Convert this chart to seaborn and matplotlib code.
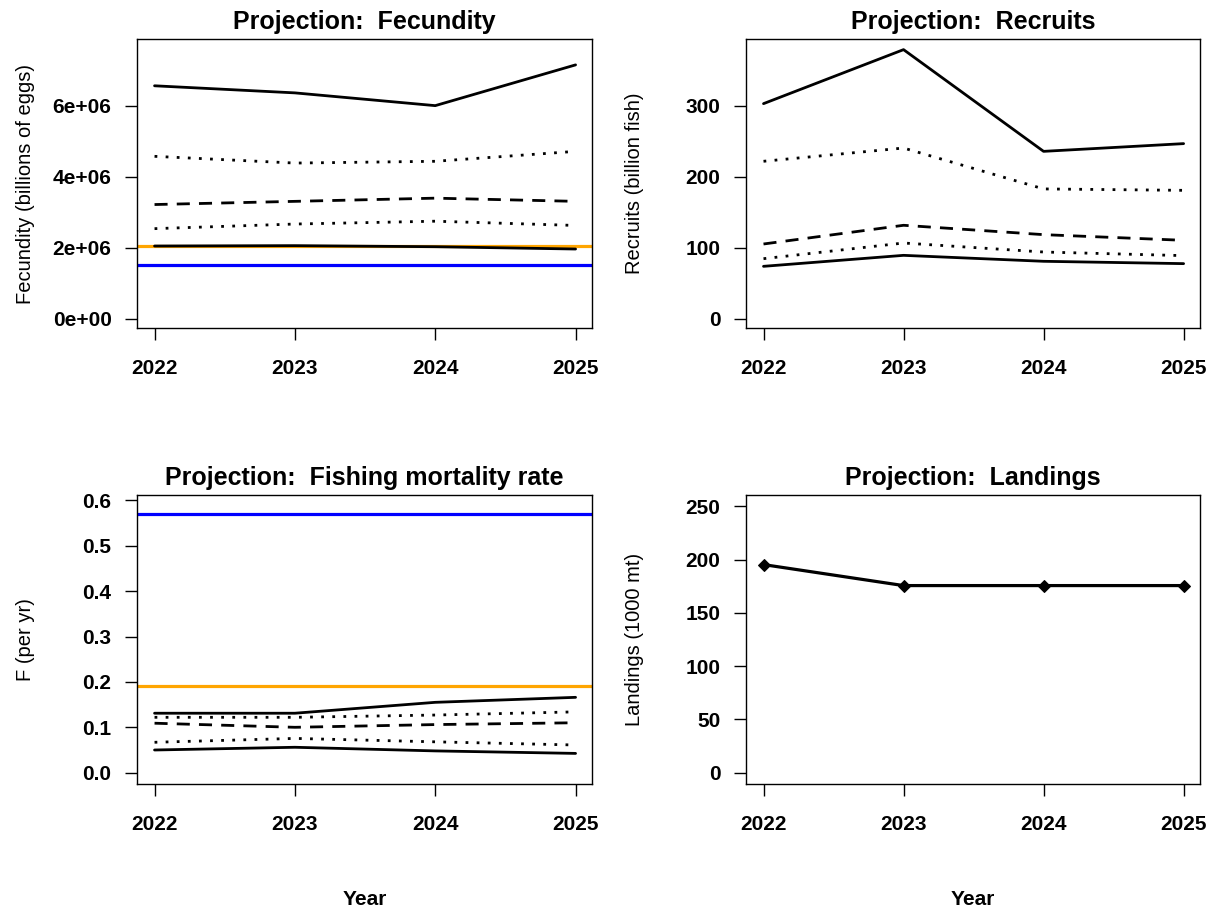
import matplotlib
matplotlib.use("Agg")
import matplotlib.pyplot as plt
import seaborn as sns
import pandas as pd

# ---------------- data ----------------
years = [2022, 2023, 2024, 2025]
year_labels = ["2022", "2023", "2024", "2025"]

# Fecundity (billions of eggs): percentile bands
fec_hi = [6.57e6, 6.37e6, 6.01e6, 7.16e6]
fec_uq = [4.58e6, 4.39e6, 4.44e6, 4.72e6]
fec_med = [3.22e6, 3.31e6, 3.40e6, 3.31e6]
fec_lq = [2.54e6, 2.67e6, 2.75e6, 2.63e6]
fec_lo = [2.05e6, 2.06e6, 2.03e6, 1.965e6]
fec_target = 2.04e6
fec_limit = 1.505e6
fec_ticks = [0, 2e6, 4e6, 6e6]
fec_ticklabels = ["0e+00", "2e+06", "4e+06", "6e+06"]

# Recruits (billion fish)
rec_hi = [303.3, 379.5, 236.0, 246.9]
rec_uq = [222.0, 240.7, 183.0, 181.0]
rec_med = [105.3, 131.7, 118.5, 110.5]
rec_lq = [84.6, 106.7, 94.0, 88.9]
rec_lo = [73.8, 89.3, 80.9, 77.6]
rec_ticks = [0, 100, 200, 300]

# Fishing mortality rate (per yr)
f_hi = [0.131, 0.131, 0.155, 0.166]
f_uq = [0.122, 0.122, 0.127, 0.134]
f_med = [0.109, 0.100, 0.106, 0.110]
f_lq = [0.067, 0.0755, 0.068, 0.061]
f_lo = [0.050, 0.056, 0.048, 0.0425]
f_limit = 0.5707
f_target = 0.1907
f_ticks = [0.0, 0.1, 0.2, 0.3, 0.4, 0.5, 0.6]
f_ticklabels = ["0.0", "0.1", "0.2", "0.3", "0.4", "0.5", "0.6"]

# Landings (1000 mt)
land = [195.3, 175.6, 175.6, 175.6]
land_ticks = [0, 50, 100, 150, 200, 250]

# ---------------- style ----------------
sns.set_theme(style="white")
plt.rcParams["font.family"] = ["Liberation Sans", "DejaVu Sans"]
for key in ["text.color", "axes.labelcolor", "xtick.color", "ytick.color", "axes.edgecolor"]:
    plt.rcParams[key] = "black"

W, H = 1211, 911
fig = plt.figure(figsize=(W / 100, H / 100), dpi=100)


def add_axes(left, top, right, bottom):
    return fig.add_axes([left / W, 1 - bottom / H, (right - left) / W, (bottom - top) / H])


LW = 2.0
DOT = (0, (1, 3))
DASH = (0, (4.7, 3.3))


def band_lines(ax, series):
    styles = ["-", DOT, DASH, DOT, "-"]
    for vals, ls in zip(series, styles):
        df = pd.DataFrame({"year": years, "value": vals})
        sns.lineplot(data=df, x="year", y="value", ax=ax, color="black",
                     linewidth=LW, linestyle=ls, zorder=3)


def style_axes(ax, title, ylabel, yticks, yticklabels, ylim, xlabel=None):
    ax.set_xlim(2021.875, 2025.117)
    ax.set_ylim(*ylim)
    ax.set_xticks(years)
    ax.set_xticklabels(year_labels)
    ax.set_yticks(yticks)
    ax.set_yticklabels(yticklabels)
    for lab in ax.get_xticklabels() + ax.get_yticklabels():
        lab.set_fontweight("bold")
        lab.set_fontsize(15)
        lab.set_color("black")
    ax.tick_params(axis="both", direction="out", length=8.3, width=1.0, color="black",
                   bottom=True, left=True)
    ax.tick_params(axis="x", pad=14)
    ax.tick_params(axis="y", pad=10)
    for sp in ax.spines.values():
        sp.set_visible(True)
        sp.set_color("black")
        sp.set_linewidth(1.0)
    ax.set_title(title, fontsize=18, fontweight="bold", pad=7, color="black")
    ax.set_ylabel(ylabel, fontsize=14.5, color="black")
    ax.yaxis.set_label_coords(-0.225, 0.5)
    if xlabel:
        ax.set_xlabel(xlabel, fontsize=15, fontweight="bold", color="black")
        ax.xaxis.set_label_coords(0.5, -0.366)
    else:
        ax.set_xlabel("")
    ax.grid(False)


# Panel 1: Fecundity
ax1 = add_axes(137, 39, 592, 328)
ax1.axhline(fec_target, color="orange", linewidth=2.3, zorder=2)
ax1.axhline(fec_limit, color="blue", linewidth=2.3, zorder=2)
band_lines(ax1, [fec_hi, fec_uq, fec_med, fec_lq, fec_lo])
style_axes(ax1, "Projection:  Fecundity", "Fecundity (billions of eggs)",
           fec_ticks, fec_ticklabels, (-0.263e6, 7.89e6))

# Panel 2: Recruits
ax2 = add_axes(746, 39, 1200, 328)
band_lines(ax2, [rec_hi, rec_uq, rec_med, rec_lq, rec_lo])
style_axes(ax2, "Projection:  Recruits", "Recruits (billion fish)",
           rec_ticks, [str(t) for t in rec_ticks], (-13.2, 394.5))

# Panel 3: Fishing mortality
ax3 = add_axes(137, 495, 592, 784)
ax3.axhline(f_limit, color="blue", linewidth=2.3, zorder=2)
ax3.axhline(f_target, color="orange", linewidth=2.3, zorder=2)
band_lines(ax3, [f_hi, f_uq, f_med, f_lq, f_lo])
style_axes(ax3, "Projection:  Fishing mortality rate", "F (per yr)",
           f_ticks, f_ticklabels, (-0.0249, 0.6117), xlabel="Year")

# Panel 4: Landings
ax4 = add_axes(746, 495, 1200, 784)
df_land = pd.DataFrame({"year": years, "value": land})
sns.lineplot(data=df_land, x="year", y="value", ax=ax4, color="black",
             linewidth=LW + 0.3, marker="D", markersize=6, markeredgecolor="black")
style_axes(ax4, "Projection:  Landings", "Landings (1000 mt)",
           land_ticks, [str(t) for t in land_ticks], (-10.6, 260.6), xlabel="Year")

fig.savefig("out.png", dpi=100)
